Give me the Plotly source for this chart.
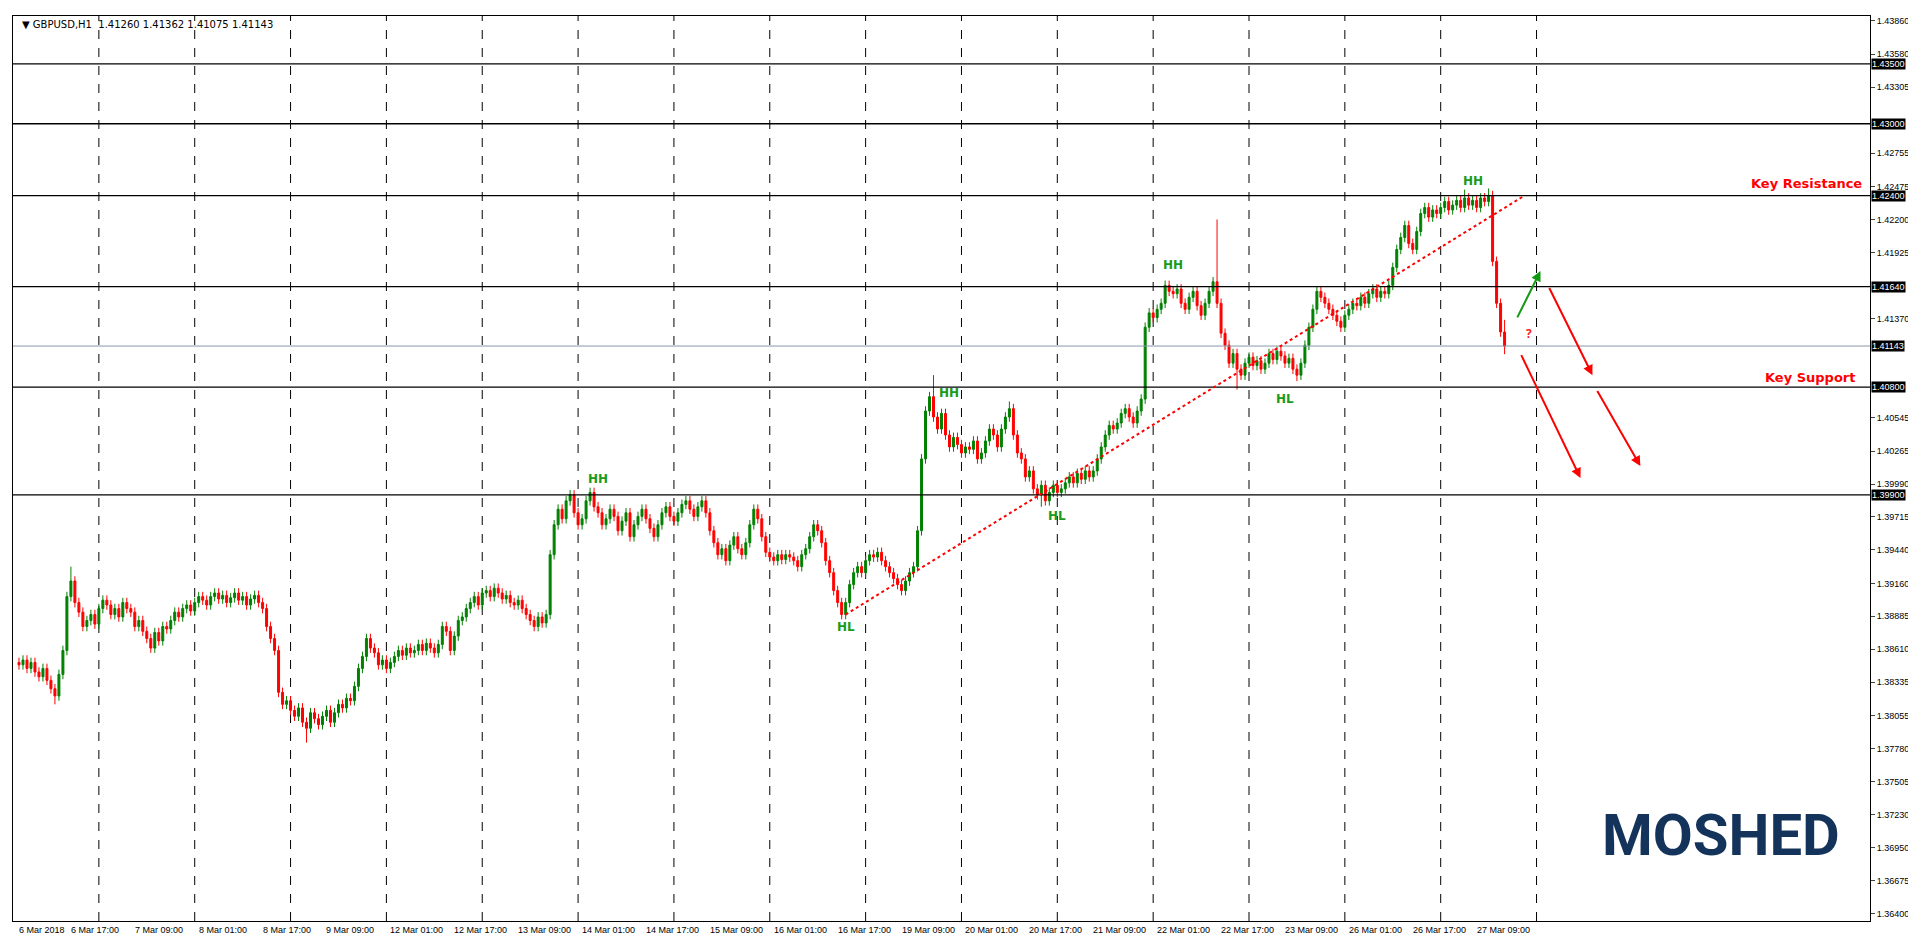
import plotly.graph_objects as go

closes = [
1.3848,1.3852,1.3845,1.3850,1.3842,1.3838,1.3845,1.3835,1.3828,1.3822,1.3840,1.3860,
1.3905,1.3918,1.3900,1.3892,1.3880,
1.3885,1.3890,1.3882,1.3895,1.3902,1.3898,1.3890,1.3895,1.3888,1.3900,1.3895,1.3892,1.3880,1.3885,1.3876,
1.3870,1.3862,1.3875,1.3868,1.3880,1.3878,
1.3885,1.3892,1.3888,1.3895,1.3898,1.3893,1.3900,1.3905,1.3902,1.3898,1.3905,1.3908,1.3903,1.3906,1.3900,1.3904,1.3908,1.3902,1.3905,1.3898,1.3903,1.3906,
1.3900,1.3895,1.3880,1.3870,1.3860,1.3825,1.3815,
1.3818,1.3810,1.3805,1.3812,1.3800,1.3795,1.3808,1.3803,1.3798,1.3805,1.3810,1.3800,
1.3808,1.3815,1.3812,1.3820,1.3818,1.3830,1.3845,1.3855,1.3870,
1.3862,1.3858,1.3848,1.3852,1.3845,1.3850,1.3855,1.3860,1.3856,1.3862,1.3858,1.3860,1.3865,1.3860,1.3866,1.3862,1.3858,
1.3865,1.3880,1.3876,1.3860,1.3872,1.3885,
1.3888,1.3895,1.3900,1.3905,1.3898,1.3908,1.3910,1.3905,1.3912,1.3908,1.3903,1.3906,1.3900,1.3898,1.3902,1.3895,
1.3890,1.3885,1.3880,1.3888,1.3883,1.3890,
1.3940,1.3965,1.3978,1.3970,1.3985,1.3990,1.3975,1.3965,1.3970,1.3985,1.3992,
1.3980,1.3975,1.3965,1.3970,1.3978,1.3972,1.3960,1.3968,1.3975,1.3955,
1.3965,1.3972,1.3978,1.3970,1.3962,1.3955,1.3965,1.3975,1.3980,1.3972,1.3968,1.3975,1.3982,1.3985,1.3978,1.3972,1.3980,1.3985,1.3975,1.3960,
1.3950,1.3940,1.3945,1.3935,1.3948,1.3955,1.3945,1.3940,1.3950,1.3965,1.3978,1.3970,1.3955,1.3942,1.3938,1.3935,1.3940,1.3936,1.3940,1.3938,
1.3935,1.3930,1.3940,1.3945,1.3955,1.3965,1.3960,1.3950,1.3935,1.3925,1.3910,1.3900,1.3890,
1.3900,1.3915,1.3925,1.3930,1.3925,1.3935,1.3940,1.3938,1.3942,1.3935,1.3930,1.3925,
1.3920,1.3915,1.3910,1.3918,1.3925,1.3930,1.3960,
1.4020,1.4060,1.4072,1.4055,1.4045,1.4058,1.4040,1.4030,1.4038,1.4032,1.4025,1.4030,1.4028,1.4035,1.4020,1.4025,1.4035,1.4045,
1.4040,1.4030,1.4045,1.4055,1.4062,1.4040,
1.4025,1.4020,1.4005,1.4010,1.3995,1.3990,1.3998,1.3985,1.3992,
1.3998,1.3992,1.3995,1.4000,1.4005,1.4000,1.4008,1.4003,1.4010,1.4005,1.4010,
1.4020,1.4030,1.4040,1.4048,1.4045,1.4050,1.4058,1.4062,1.4055,1.4050,1.4060,1.4070,
1.4130,1.4142,1.4138,1.4145,1.4150,
1.4165,1.4160,1.4158,1.4162,1.4150,1.4145,1.4155,1.4160,1.4148,1.4140,1.4150,1.4160,1.4168,1.4150,
1.4125,1.4115,1.4100,1.4108,1.4095,1.4090,1.4100,1.4105,1.4098,1.4102,
1.4095,1.4100,1.4108,1.4103,1.4110,1.4106,1.4100,1.4104,1.4095,1.4090,1.4100,1.4115,
1.4130,1.4145,1.4160,1.4155,1.4150,
1.4145,1.4140,1.4135,1.4130,1.4140,1.4145,1.4150,1.4148,1.4155,1.4150,1.4158,1.4162,1.4155,1.4160,1.4158,1.4165,
1.4180,1.4195,1.4205,1.4215,1.4200,1.4195,1.4210,1.4225,1.4230,1.4222,1.4228,1.4225,1.4230,
1.4235,1.4228,1.4232,1.4236,1.4230,1.4238,1.4232,1.4236,1.4230,1.4238,1.4235,1.4240,
1.4185,1.4150,1.4126,1.41143,
]
first_open = 1.3850
wick = 0.0004
spike_highs = {13: 1.3930, 229: 1.4090, 248: 1.4068, 300: 1.4220, 362: 1.4245, 368: 1.4246, 372: 1.41362}
spike_lows = {9: 1.3815, 72: 1.3783, 207: 1.3886, 256: 1.3980, 305: 1.4078, 320: 1.4085, 372: 1.41075}

y_ticks = [1.43860,1.43580,1.43305,1.42755,1.42475,1.42200,1.41925,1.41370,
           1.40545,1.40265,1.39990,1.39715,1.39440,1.39160,1.38885,1.38610,1.38335,1.38055,
           1.37780,1.37505,1.37230,1.36950,1.36675,1.36400]
levels = [1.43500, 1.43000, 1.42400, 1.41640, 1.40800, 1.39900]
current = 1.41143
x_labels = ["6 Mar 2018","6 Mar 17:00","7 Mar 09:00","8 Mar 01:00","8 Mar 17:00","9 Mar 09:00",
            "12 Mar 01:00","12 Mar 17:00","13 Mar 09:00","14 Mar 01:00","14 Mar 17:00","15 Mar 09:00",
            "16 Mar 01:00","16 Mar 17:00","19 Mar 09:00","20 Mar 01:00","20 Mar 17:00","21 Mar 09:00",
            "22 Mar 01:00","22 Mar 17:00","23 Mar 09:00","26 Mar 01:00","26 Mar 17:00","27 Mar 09:00"]
x_label_bars = [0] + [13 + 16 * k for k in range(23)]
grid_bars = [20 + 24 * k for k in range(16)]
swing_labels = [("HH", 145, 1.4003), ("HH", 233, 1.4075), ("HH", 289, 1.4182), ("HH", 364, 1.4252),
                ("HL", 207, 1.3880), ("HL", 260, 1.3972), ("HL", 317, 1.4070)]
trend = [(207, 1.3890), (377, 1.4240)]
green_arrow = [(375, 1.4137), (381, 1.4177)]
red_arrows = [[(376, 1.4108), (391, 1.4004)], [(383, 1.4164), (394, 1.4090)], [(395, 1.4078), (406, 1.4014)]]

x = list(range(len(closes)))
opens, highs, lows = [], [], []
prev = first_open
for i, c in enumerate(closes):
    o = prev
    opens.append(o)
    highs.append(spike_highs.get(i, max(o, c) + wick))
    lows.append(spike_lows.get(i, min(o, c) - wick))
    prev = c

fig = go.Figure(go.Candlestick(
    x=x, open=opens, high=highs, low=lows, close=closes,
    increasing=dict(line=dict(color="#008000", width=1), fillcolor="#008000"),
    decreasing=dict(line=dict(color="#ff0000", width=1), fillcolor="#ff0000"),
    whiskerwidth=0, showlegend=False, hoverinfo="skip"))

shapes = []
for g in grid_bars:
    shapes.append(dict(type="line", xref="x", yref="paper", x0=g, x1=g, y0=0, y1=1,
                       line=dict(color="black", width=1, dash="dash"), layer="below"))
for lv in levels:
    shapes.append(dict(type="line", xref="paper", yref="y", x0=0, x1=1, y0=lv, y1=lv,
                       line=dict(color="black", width=1.3)))
shapes.append(dict(type="line", xref="paper", yref="y", x0=0, x1=1, y0=current, y1=current,
                   line=dict(color="#8899aa", width=1)))
shapes.append(dict(type="line", xref="x", yref="y", x0=trend[0][0], y0=trend[0][1], x1=trend[1][0], y1=trend[1][1],
                   line=dict(color="#ff0000", width=2, dash="dot")))

ann = []
def arrow(p0, p1, color):
    ann.append(dict(x=p1[0], y=p1[1], ax=p0[0], ay=p0[1], xref="x", yref="y", axref="x", ayref="y",
                    showarrow=True, arrowhead=2, arrowsize=1, arrowwidth=2, arrowcolor=color, text=""))
arrow(green_arrow[0], green_arrow[1], "#119911")
for a in red_arrows:
    arrow(a[0], a[1], "#ff0000")
for t, bx, by in swing_labels:
    ann.append(dict(x=bx, y=by, text="<b>" + t + "</b>", showarrow=False, font=dict(color="#1a9a1a", size=12, family="DejaVu Sans")))
ann.append(dict(x=378, y=1.4125, text="<b>?</b>", showarrow=False, font=dict(color="#ff2222", size=12)))
ann.append(dict(x=0.997, xref="paper", y=1.4250, text="<b>Key Resistance</b>", showarrow=False, xanchor="right",
                font=dict(color="#ff0000", size=13, family="DejaVu Sans")))
ann.append(dict(x=0.993, xref="paper", y=1.4088, text="<b>Key Support</b>", showarrow=False, xanchor="right",
                font=dict(color="#ff0000", size=13, family="DejaVu Sans")))
for lv in levels + [current]:
    ann.append(dict(x=1.0, xref="paper", y=lv, text="%.5f" % lv, showarrow=False, xanchor="left",
                    xshift=1, bgcolor="black", borderpad=0, font=dict(color="white", size=9, family="Liberation Sans")))
for lbl, b in zip(x_labels, x_label_bars):
    ann.append(dict(x=b, y=0, yref="paper", text=lbl, showarrow=False, xanchor="left", yanchor="top",
                    yshift=-2, xshift=-2, font=dict(color="black", size=9, family="Liberation Sans")))
ann.append(dict(x=0.004, y=0.999, xref="paper", yref="paper", text="▼ GBPUSD,H1  1.41260 1.41362 1.41075 1.41143",
                showarrow=False, xanchor="left", yanchor="top", font=dict(color="black", size=10, family="DejaVu Sans")))
ann.append(dict(x=0.985, y=0.055, xref="paper", yref="paper", text="<b>MOSHED</b>", showarrow=False,
                xanchor="right", yanchor="bottom", font=dict(color="#14335a", size=58, family="Roboto")))

fig.update_layout(
    width=1916, height=934, margin=dict(l=5, r=54, t=8, b=21),
    paper_bgcolor="white", plot_bgcolor="white",
    shapes=shapes, annotations=ann,
    xaxis=dict(range=[-1.5, 463.5], rangeslider=dict(visible=False), showgrid=False, showticklabels=False,
               showline=True, linecolor="black", mirror=True, zeroline=False),
    yaxis=dict(range=[1.3634, 1.4390], side="right", tickvals=y_ticks, ticktext=["%.5f" % v for v in y_ticks],
               ticks="outside", ticklen=4, showgrid=False, showline=True, linecolor="black", mirror=True,
               zeroline=False, tickfont=dict(size=9, family="Liberation Sans", color="black")),
)
fig.write_html("out.html")
